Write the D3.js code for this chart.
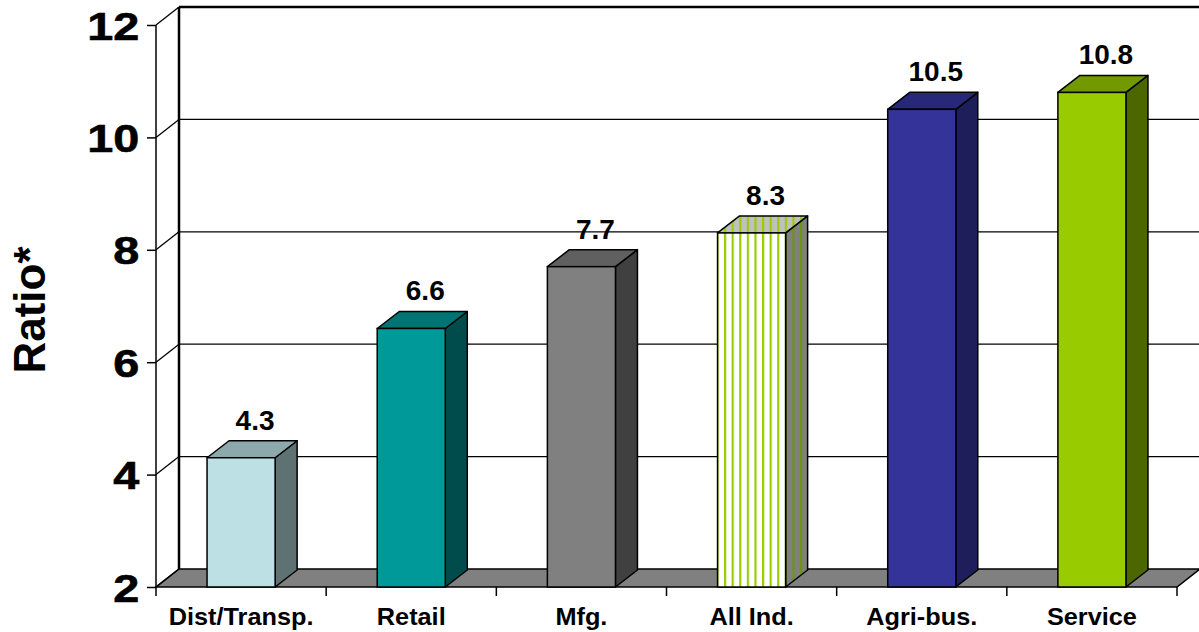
<!DOCTYPE html>
<html><head><meta charset="utf-8">
<script src="https://cdn.jsdelivr.net/npm/d3@7"></script>
<style>body{margin:0;background:#fff;}svg{display:block;font-family:"Liberation Sans",Arial,sans-serif;}</style>
</head><body>
<svg id="c" width="1199" height="632"></svg>
<script>
const categories = ["Dist/Transp.", "Retail", "Mfg.", "All Ind.", "Agri-bus.", "Service"];
const values = [4.3, 6.6, 7.7, 8.3, 10.5, 10.8];
const yTicks = [2, 4, 6, 8, 10, 12];
const yTitle = "Ratio*";
const frontColors = ["#BCE0E3", "#009999", "#808080", "url(#stripeFront)", "#333399", "#99CC00"];
const topColors = ["#8EA9AB", "#007373", "#606060", "url(#stripeTop)", "#28287A", "#739900"];
const sideColors = ["#5E7273", "#004C4C", "#404040", "url(#stripeSide)", "#1E1E5A", "#4C6600"];

const svg = d3.select("#c");
const y = d3.scaleLinear().domain([2, 12]).range([587, 25]);
const x = d3.scaleBand().domain(categories).range([156, 1177]).padding(0);
const W = 23, H = -18;      // wall depth
const bdx = 22, bdy = -17;  // bar depth
const bw = x.bandwidth() * 0.4;
const baseY = y(2);

// patterns
const defs = svg.append("defs");
function stripe(id, bg, fg) {
  const p = defs.append("pattern").attr("id", id).attr("patternUnits", "userSpaceOnUse")
    .attr("width", 7.6).attr("height", 10).attr("x", 2);
  p.append("rect").attr("width", 7.6).attr("height", 10).attr("fill", bg);
  p.append("rect").attr("x", 0).attr("width", 2.2).attr("height", 10).attr("fill", fg);
}
stripe("stripeFront", "#FFFFFF", "#99CC00");
stripe("stripeTop", "#C0C0C0", "#99CC00");
stripe("stripeSide", "#808080", "#6E9410");

// floor
const x0 = 156, x1 = 1177;
svg.append("polygon")
  .attr("points", [[x0, baseY], [x1, baseY], [x1 + W, baseY + H], [x0 + W, baseY + H]].map(p => p.join(",")).join(" "))
  .attr("fill", "#808080").attr("stroke", "#000").attr("stroke-width", 1.5);

// back wall gridlines
yTicks.forEach(t => {
  if (t === 2) return;
  svg.append("line").attr("x1", x0 + W).attr("x2", 1205)
    .attr("y1", y(t) + H).attr("y2", y(t) + H)
    .attr("stroke", "#000").attr("stroke-width", t === 12 ? 2.5 : 1.3);
});
// back-left vertical
svg.append("line").attr("x1", x0 + W).attr("x2", x0 + W)
  .attr("y1", y(12) + H).attr("y2", baseY + H).attr("stroke", "#000").attr("stroke-width", 2.5);
// side wall diagonals
yTicks.forEach(t => {
  svg.append("line").attr("x1", x0).attr("y1", y(t)).attr("x2", x0 + W).attr("y2", y(t) + H)
    .attr("stroke", "#000").attr("stroke-width", 1.3);
});

// y axis
const yAxis = svg.append("g").attr("transform", `translate(${x0},0)`)
  .call(d3.axisLeft(y).tickValues(yTicks).tickSize(9).tickFormat(d3.format("d")));
yAxis.select(".domain").attr("stroke-width", 1.5).attr("d", `M-0,${y(12)}V${y(2)}`);
yAxis.selectAll(".tick line").attr("stroke-width", 1.5);
yAxis.selectAll(".tick text").attr("font-size", 39).attr("font-weight", "bold")
  .attr("font-family", "'Liberation Sans',Arial,sans-serif").attr("fill", "#000")
  .attr("stroke", "#000").attr("stroke-width", 0.6)
  .attr("x", -14).attr("dy", "0.36em")
  .attr("transform", "scale(1.2,1)");

// x axis ticks and labels
const xt = [x0].concat(categories.map(c => x(c) + x.bandwidth()));
svg.selectAll(".xt").data(xt).enter().append("line")
  .attr("x1", d => d).attr("x2", d => d).attr("y1", baseY).attr("y2", baseY + 9)
  .attr("stroke", "#000").attr("stroke-width", 1.5);
svg.selectAll(".xl").data(categories).enter().append("text")
  .attr("x", d => x(d) + x.bandwidth() / 2).attr("y", 625)
  .attr("text-anchor", "middle").attr("font-size", 23).attr("font-weight", "bold")
  .attr("transform", d => { const cx = x(d) + x.bandwidth() / 2; return `translate(${cx},0) scale(1.1,1) translate(${-cx},0)`; })
  .text(d => d);

// bars
const bars = svg.selectAll(".bar").data(values).enter().append("g");
bars.each(function (v, i) {
  const g = d3.select(this);
  const cx = x(categories[i]) + x.bandwidth() / 2;
  const L = cx - bw / 2, R = cx + bw / 2, T = y(v), B = baseY;
  const pts = a => a.map(p => p.join(",")).join(" ");
  g.append("polygon").attr("points", pts([[R, T], [R + bdx, T + bdy], [R + bdx, B + bdy], [R, B]]))
    .attr("fill", sideColors[i]).attr("stroke", "#000").attr("stroke-width", 1.5).attr("stroke-linejoin", "round");
  g.append("polygon").attr("points", pts([[L, T], [L + bdx, T + bdy], [R + bdx, T + bdy], [R, T]]))
    .attr("fill", topColors[i]).attr("stroke", "#000").attr("stroke-width", 1.5).attr("stroke-linejoin", "round");
  g.append("rect").attr("x", L).attr("y", T).attr("width", bw).attr("height", B - T)
    .attr("fill", frontColors[i]).attr("stroke", "#000").attr("stroke-width", 1.5);
  g.append("text").attr("x", cx + 14).attr("y", T - 28).attr("text-anchor", "middle")
    .attr("font-size", 28).attr("font-weight", "bold").text(d3.format(".1f")(v));
});

// y title
svg.append("text").attr("transform", "translate(45,310) rotate(-90)")
  .attr("text-anchor", "middle").attr("font-size", 44).attr("font-weight", "bold").text(yTitle);
</script>
</body></html>
